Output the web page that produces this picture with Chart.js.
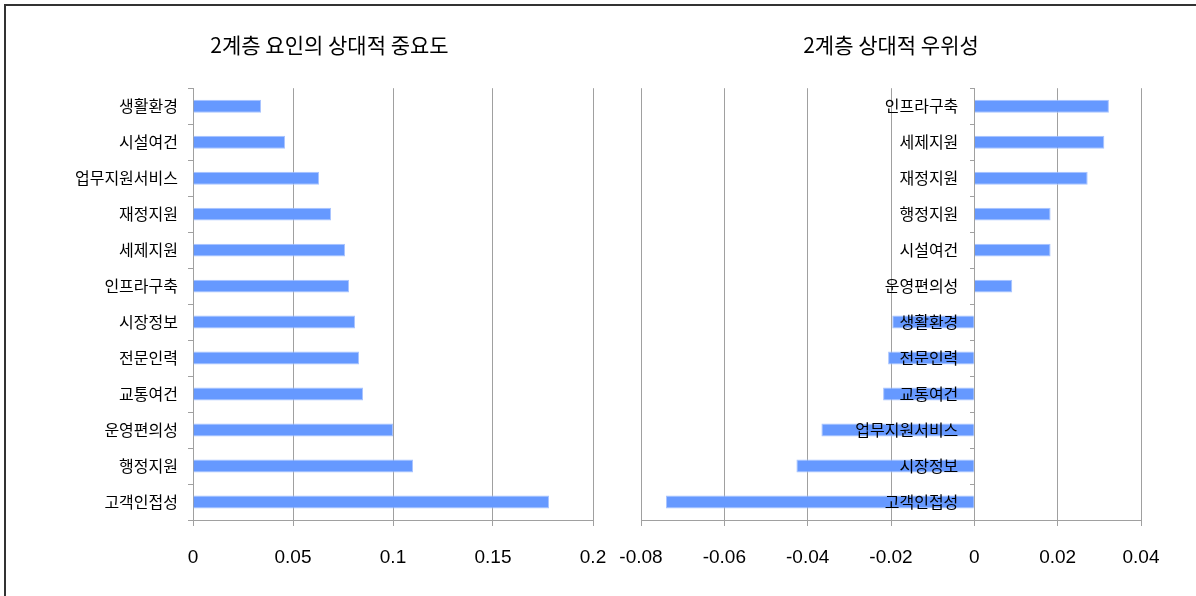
<!DOCTYPE html>
<html lang="ko">
<head>
<meta charset="UTF-8">
<title>2계층 요인 분석</title>
<script src="https://cdn.jsdelivr.net/npm/chart.js"></script>
<style>
    html, body { margin: 0; padding: 0; background: #fff; }
    #wrap { position: relative; width: 1196px; height: 596px; overflow: hidden; }
    #frame { position: absolute; left: 4px; top: 4px; right: -10px; bottom: -10px;
             border-top: 2px solid #333; border-left: 2px solid #333; }
    #left-chart { position: absolute; left: 0; top: 0; }
    #right-chart { position: absolute; left: 615px; top: 0; }
</style>
</head>
<body>

<div id="wrap">
    <div id="frame"></div>
    <canvas id="left-chart" width="615" height="596"></canvas>
    <canvas id="right-chart" width="581" height="596"></canvas>
</div>

<script>
    // 상대적 중요도 (왼쪽)
    const importanceLabels = ['생활환경', '시설여건', '업무지원서비스', '재정지원', '세제지원', '인프라구축',
        '시장정보', '전문인력', '교통여건', '운영편의성', '행정지원', '고객인접성'];
    const importanceValues = [0.034, 0.046, 0.063, 0.069, 0.076, 0.078,
        0.081, 0.083, 0.085, 0.100, 0.110, 0.178];
    const importanceTicks = [0, 0.05, 0.1, 0.15, 0.2];

    // 상대적 우위성 (오른쪽)
    const superiorityLabels = ['인프라구축', '세제지원', '재정지원', '행정지원', '시설여건', '운영편의성',
        '생활환경', '전문인력', '교통여건', '업무지원서비스', '시장정보', '고객인접성'];
    const superiorityValues = [0.0323, 0.0312, 0.0272, 0.0183, 0.0183, 0.0091,
        -0.0197, -0.0207, -0.0219, -0.0367, -0.0427, -0.0740];
    const superiorityTicks = [-0.08, -0.06, -0.04, -0.02, 0, 0.02, 0.04];

    const hangulFont = "'Noto Sans CJK KR', sans-serif";
    const numberFont = "'Liberation Sans', sans-serif";
    const lineGray = '#a0a0a0';
    const barBlue = '#6699ff';

    function valueAxis(ticks) {
        return {
            min: ticks[0],
            max: ticks[ticks.length - 1],
            afterBuildTicks: s => { s.ticks = ticks.map(v => ({ value: v })); },
            afterFit: s => {
                s.height = 76;
                // end labels may hang into the layout padding
                s.paddingLeft = 0;
                s.paddingRight = 0;
            },
            grid: { color: lineGray, tickLength: 6 },
            border: { color: lineGray },
            ticks: {
                color: '#000',
                padding: 20,
                maxRotation: 0,
                autoSkip: false,
                font: { family: numberFont, size: 19 },
                callback: v => String(v)
            }
        };
    }

    function barChart(id, labels, values, ticks, title, padding, yAxis) {
        return new Chart(document.getElementById(id), {
            type: 'bar',
            data: {
                labels: labels,
                datasets: [{
                    data: values,
                    backgroundColor: barBlue,
                    borderColor: '#a9c4ff',
                    borderWidth: 1,
                    barPercentage: 0.36,
                    categoryPercentage: 1
                }]
            },
            options: {
                indexAxis: 'y',
                responsive: false,
                animation: false,
                layout: { padding: padding },
                plugins: {
                    legend: { display: false },
                    tooltip: { enabled: false },
                    title: {
                        display: true,
                        text: title,
                        color: '#000',
                        font: { family: hangulFont, size: 21, weight: 'normal' },
                        padding: { top: 32, bottom: 31 }
                    }
                },
                scales: {
                    x: valueAxis(ticks),
                    y: yAxis
                }
            }
        });
    }

    barChart('left-chart', importanceLabels, importanceValues, importanceTicks,
        '2계층 요인의 상대적 중요도',
        { left: 66, right: 22, top: 0, bottom: 0 },
        {
            afterFit: s => { s.width = 127; },
            grid: { offset: true, drawOnChartArea: false, color: lineGray, tickLength: 5 },
            border: { color: lineGray },
            ticks: { color: '#000', padding: 10, font: { family: hangulFont, size: 16 } }
        });

    // 라벨은 0 축 옆에 두고 막대 위에 그린다 (em space로 축과 간격)
    barChart('right-chart', superiorityLabels, superiorityValues, superiorityTicks,
        '2계층 상대적 우위성',
        { left: 26, right: 55, top: 0, bottom: 0 },
        {
            position: { x: 0 },
            grid: { offset: true, drawOnChartArea: false, color: lineGray, tickLength: 4 },
            border: { color: lineGray },
            ticks: {
                color: '#000', z: 1,
                font: { family: hangulFont, size: 16 },
                callback: (v, i) => superiorityLabels[i] + '\u2003'
            }
        });
</script>

</body>
</html>
